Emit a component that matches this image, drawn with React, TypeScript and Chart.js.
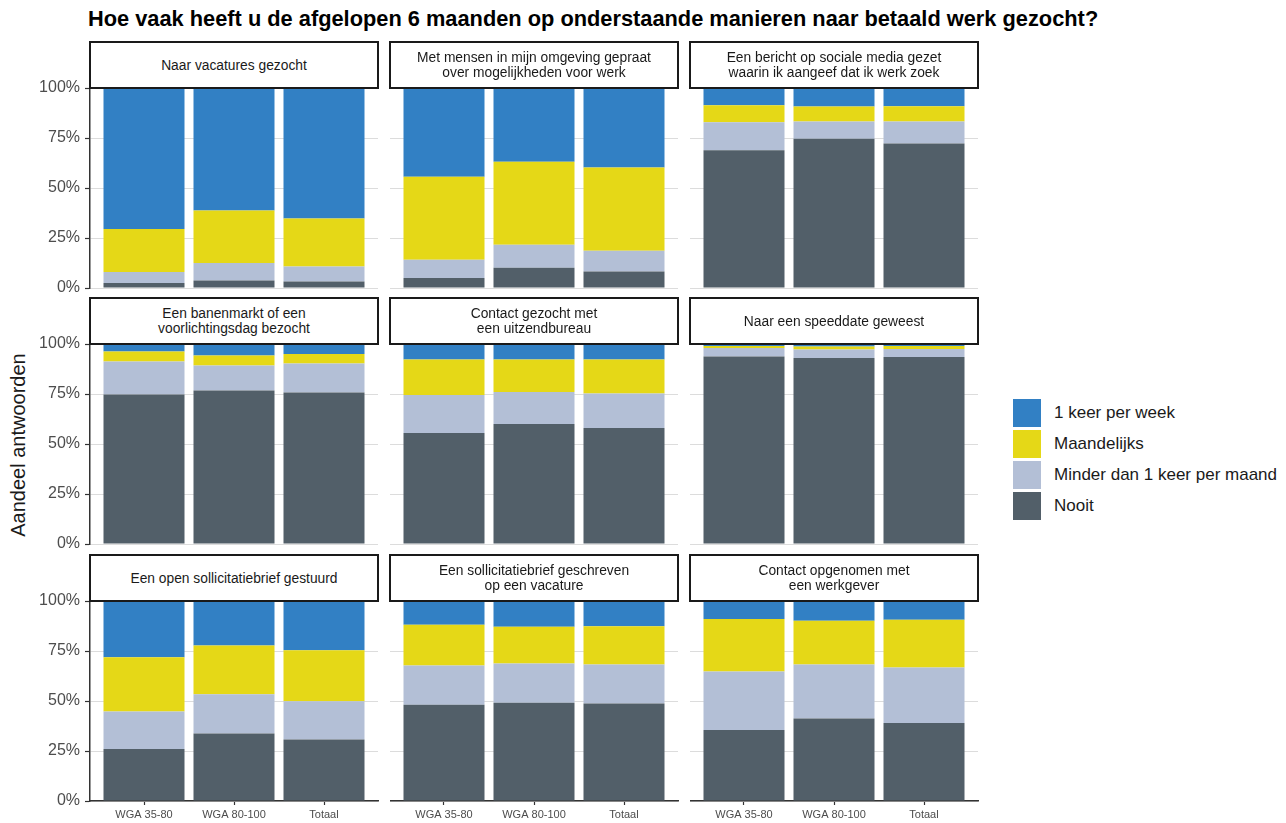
import React, { useEffect, useRef } from 'react';
import { Chart, registerables } from 'chart.js';

Chart.register(...registerables);

const FONT = "'Liberation Sans', Arial, Helvetica, sans-serif";

const chartTitle = 'Hoe vaak heeft u de afgelopen 6 maanden op onderstaande manieren naar betaald werk gezocht?';
const yAxisTitle = 'Aandeel antwoorden';

const groups = ['WGA 35-80', 'WGA 80-100', 'Totaal'];

const panelTitles = [
  'Naar vacatures gezocht',
  'Met mensen in mijn omgeving gepraat\nover mogelijkheden voor werk',
  'Een bericht op sociale media gezet\nwaarin ik aangeef dat ik werk zoek',
  'Een banenmarkt of een\nvoorlichtingsdag bezocht',
  'Contact gezocht met\neen uitzendbureau',
  'Naar een speeddate geweest',
  'Een open sollicitatiebrief gestuurd',
  'Een sollicitatiebrief geschreven\nop een vacature',
  'Contact opgenomen met\neen werkgever',
];

const seriesNames = ['1 keer per week', 'Maandelijks', 'Minder dan 1 keer per maand', 'Nooit'];
const seriesColors = ['#3280C4', '#E5D817', '#B3BFD6', '#525F69'];

// values in percent, per panel: [WGA 35-80, WGA 80-100, Totaal]
const week = [
  [70.5, 61.3, 65.2], [44.4, 36.9, 39.7], [8.6, 9.3, 9.1],
  [3.8, 5.8, 5.0], [7.8, 7.8, 7.8], [1.0, 1.2, 1.0],
  [28.1, 22.3, 24.6], [11.9, 12.9, 12.6], [9.0, 9.9, 9.4],
];
const maandelijks = [
  [21.5, 26.2, 24.1], [41.5, 41.5, 41.7], [8.5, 7.5, 7.7],
  [4.9, 5.0, 4.8], [17.7, 16.2, 16.9], [1.0, 1.6, 1.5],
  [27.2, 24.3, 25.5], [20.3, 18.3, 19.2], [26.3, 21.9, 23.8],
];
const minder = [
  [5.5, 8.7, 7.4], [9.1, 11.5, 10.3], [14.0, 8.6, 10.9],
  [16.5, 12.5, 14.4], [19.0, 16.0, 17.3], [4.2, 4.2, 4.0],
  [18.7, 19.6, 19.1], [19.7, 19.7, 19.5], [29.2, 27.0, 27.8],
];
const nooit = [
  [2.5, 3.8, 3.3], [5.0, 10.1, 8.3], [68.9, 74.6, 72.3],
  [74.8, 76.7, 75.8], [55.5, 60.0, 58.0], [93.8, 93.0, 93.5],
  [26.0, 33.8, 30.8], [48.1, 49.1, 48.7], [35.5, 41.2, 39.0],
];

const yTicks = [0, 25, 50, 75, 100];

const COL_LEFT = [90, 390, 690];
const ROW_TOP = [88, 344, 601];
const PW = 288;
const PH = 200;

function Panel({ index }: { index: number }) {
  const ref = useRef<HTMLCanvasElement | null>(null);
  const row = Math.floor(index / 3);
  const col = index % 3;
  const axisW = col === 0 ? 90 : 0;
  const padT = 10;
  const padR = 2;
  const bottomH = row === 2 ? 30 : 10;
  const left = COL_LEFT[col] - axisW;
  const top = ROW_TOP[row] - padT;
  const w = axisW + PW + padR;
  const h = padT + PH + bottomH;

  useEffect(() => {
    if (!ref.current) return;
    // bottom to top
    const stack = [
      { values: nooit, s: 3 },
      { values: minder, s: 2 },
      { values: maandelijks, s: 1 },
      { values: week, s: 0 },
    ];
    const chart = new Chart(ref.current, {
      type: 'bar',
      data: {
        datasets: stack.map((d) => ({
          label: seriesNames[d.s],
          data: groups.map((_, j) => ({ x: j + 1, y: d.values[index][j] })),
          backgroundColor: seriesColors[d.s],
          borderWidth: 0,
          barPercentage: 0.9,
          categoryPercentage: 1,
        })),
      },
      options: {
        animation: false,
        responsive: false,
        maintainAspectRatio: false,
        events: [],
        layout: { padding: { top: padT, right: padR, bottom: row === 2 ? 0 : bottomH, left: 0 } },
        plugins: { legend: { display: false }, tooltip: { enabled: false } },
        scales: {
          x: {
            type: 'linear',
            min: 0.4,
            max: 3.6,
            offset: false,
            stacked: true,
            display: row === 2,
            grid: {
              display: true,
              offset: false,
              drawOnChartArea: false,
              drawTicks: true,
              tickLength: 4,
              tickColor: '#333333',
              tickWidth: 1.2,
            },
            border: { display: true, color: '#333333', width: 1.5 },
            ticks: {
              font: { family: FONT, size: 11 },
              color: '#4d4d4d',
              padding: 3,
              maxRotation: 0,
              autoSkip: false,
              callback: (v: any) => groups[Math.round(Number(v)) - 1] ?? '',
            },
            afterBuildTicks: (s: any) => {
              s.ticks = groups.map((_, j) => ({ value: j + 1 }));
            },
            afterFit: (s: any) => {
              s.height = row === 2 ? 30 : 0;
              s.paddingLeft = 0;
              s.paddingRight = 0;
            },
          },
          y: {
            type: 'linear',
            min: 0,
            max: 100,
            stacked: true,
            grid: {
              color: '#dcdcdc',
              lineWidth: 1,
              drawTicks: col === 0,
              tickLength: 5,
              tickColor: '#333333',
              tickWidth: 1.2,
            },
            border: { display: col === 0, color: '#333333', width: 1.5 },
            ticks: {
              display: col === 0,
              font: { family: FONT, size: 16 },
              color: '#4d4d4d',
              padding: 5,
              callback: (v: any) => `${v}%`,
            },
            afterBuildTicks: (s: any) => {
              s.ticks = yTicks.map((v) => ({ value: v }));
            },
            afterFit: (s: any) => {
              s.width = axisW;
              s.paddingTop = 0;
              s.paddingBottom = 0;
            },
          },
        },
      } as any,
    });
    return () => chart.destroy();
  }, []);

  return (
    <canvas
      ref={ref}
      width={w}
      height={h}
      style={{ position: 'absolute', left, top, width: w, height: h }}
    />
  );
}

function Strip({ index }: { index: number }) {
  const row = Math.floor(index / 3);
  const col = index % 3;
  return (
    <div
      style={{
        position: 'absolute',
        left: COL_LEFT[col] - 1,
        top: ROW_TOP[row] - 47,
        width: PW + 2,
        height: 48,
        boxSizing: 'border-box',
        border: '2px solid #1a1a1a',
        background: '#ffffff',
        display: 'flex',
        alignItems: 'center',
        justifyContent: 'center',
        textAlign: 'center',
        whiteSpace: 'pre-line',
        fontFamily: FONT,
        fontSize: 13.8,
        lineHeight: '15px',
        color: '#1a1a1a',
      }}
    >
      {panelTitles[index]}
    </div>
  );
}

export default function App() {
  const legendOrder = [0, 1, 2, 3];
  return (
    <div
      style={{
        position: 'absolute',
        left: 0,
        top: 0,
        width: 1286,
        height: 823,
        background: '#ffffff',
        overflow: 'hidden',
        fontFamily: FONT,
      }}
    >
      <div
        style={{
          position: 'absolute',
          left: 88,
          top: 8,
          fontSize: 21.8,
          lineHeight: 1,
          fontWeight: 'bold',
          color: '#000000',
          whiteSpace: 'nowrap',
        }}
      >
        {chartTitle}
      </div>
      <div
        style={{
          position: 'absolute',
          left: 18,
          top: 445,
          transform: 'translate(-50%, -50%) rotate(-90deg)',
          fontSize: 20,
          lineHeight: 1,
          color: '#1a1a1a',
          whiteSpace: 'nowrap',
        }}
      >
        {yAxisTitle}
      </div>
      {panelTitles.map((_, i) => (
        <Panel key={`p${i}`} index={i} />
      ))}
      {panelTitles.map((_, i) => (
        <Strip key={`s${i}`} index={i} />
      ))}
      {legendOrder.map((s, k) => (
        <div key={`l${s}`}>
          <div
            style={{
              position: 'absolute',
              left: 1013,
              top: 399 + k * 31,
              width: 28,
              height: 28,
              background: seriesColors[s],
            }}
          />
          <div
            style={{
              position: 'absolute',
              left: 1054,
              top: 399 + k * 31,
              height: 28,
              display: 'flex',
              alignItems: 'center',
              fontSize: 17,
              color: '#1a1a1a',
              whiteSpace: 'nowrap',
            }}
          >
            {seriesNames[s]}
          </div>
        </div>
      ))}
    </div>
  );
}
